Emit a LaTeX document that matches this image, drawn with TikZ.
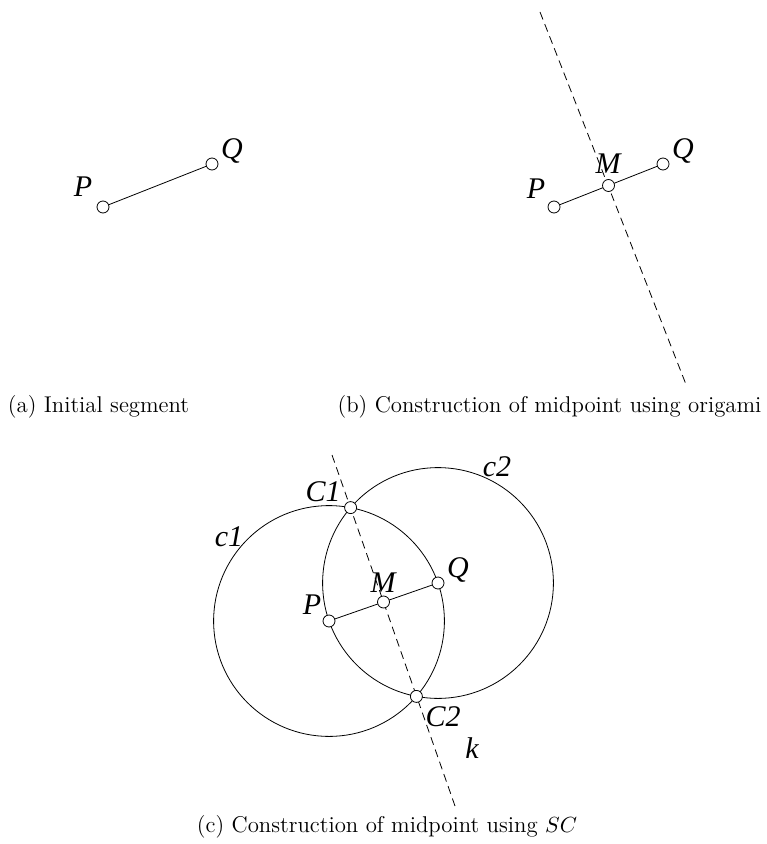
\documentclass[tikz,border=0pt]{standalone}
\usepackage{fontspec}
\newfontfamily\lblfont{Liberation Serif}
\usetikzlibrary{calc}

\tikzset{
  pt/.style={circle, draw, fill=white, inner sep=0pt, minimum size=6pt},
  lbl/.style={font=\lblfont\itshape\fontsize{15}{15}\selectfont, inner sep=0pt},
  captxt/.style={font=\fontsize{11.4}{13}\selectfont},
  fold/.style={dash pattern=on 4pt off 2.5pt}
}

\begin{document}
\begin{tikzpicture}[x=0.5pt, y=-0.5pt]
	\useasboundingbox (0,0) rectangle (766,844);

	% (a) Anfangsstrecke
	\begin{scope}
		\coordinate (Pa) at (103,207);
		\coordinate (Qa) at (212,164);
		\draw (Pa) -- (Qa);
		\node[pt] (pa) at (Pa) {};
		\node[pt] (qa) at (Qa) {};
		\node[lbl] (lpa) at (83,187) {P};
		\node[lbl] (lqa) at (232,151) {Q};
		\node[captxt] (capa) at (98.5,407) {(a) Initial segment};
	\end{scope}

	% (b) Mittelpunkt per Faltung
	\begin{scope}[xshift=225.5pt]
		\coordinate (Pb) at (103,207);
		\coordinate (Qb) at (212,164);
		\coordinate (Mb) at ($(Pb)!0.5!(Qb)$);
		\coordinate (kb1) at (89,12);
		\coordinate (kb2) at (236,387);
		\draw[fold] (kb1) -- (kb2);
		\draw (Pb) -- (Qb);
		\node[pt] (pb) at (Pb) {};
		\node[pt] (mb) at (Mb) {};
		\node[pt] (qb) at (Qb) {};
		\node[lbl] (lpb) at (85,189) {P};
		\node[lbl] (lmb) at (157,164) {M};
		\node[lbl] (lqb) at (232,151) {Q};
		\node[captxt] (capb) at (98.5,407) {(b) Construction of midpoint using origami};
	\end{scope}

	% (c) Mittelpunkt per Zirkel
	\coordinate (P) at (329,621);
	\coordinate (Q) at (438,583);
	\coordinate (M) at ($(P)!0.5!(Q)$);
	\coordinate (C1) at (350.6,507.6);
	\coordinate (C2) at (416.4,696.4);
	\coordinate (k1) at (332,455);
	\coordinate (k2) at (455,806);
	\draw (P) circle[radius=57.7pt];
	\draw (Q) circle[radius=57.7pt];
	\draw[fold] (k1) -- (k2);
	\draw (P) -- (Q);
	\foreach \p in {P,M,Q,C1,C2}
		\node[pt] (n\p) at (\p) {};
	\node[lbl] (lc1) at (229,537) {c1};
	\node[lbl] (lc2) at (497,467) {c2};
	\node[lbl] (lC1) at (323,492) {C1};
	\node[lbl] (lC2) at (443,717) {C2};
	\node[lbl] (lP) at (312,605) {P};
	\node[lbl] (lM) at (383,583) {M};
	\node[lbl] (lQ) at (458,570) {Q};
	\node[lbl] (lk) at (472,748) {k};
	\node[captxt] (capc) at (387,827) {(c) Construction of midpoint using $SC$};
\end{tikzpicture}
\end{document}
